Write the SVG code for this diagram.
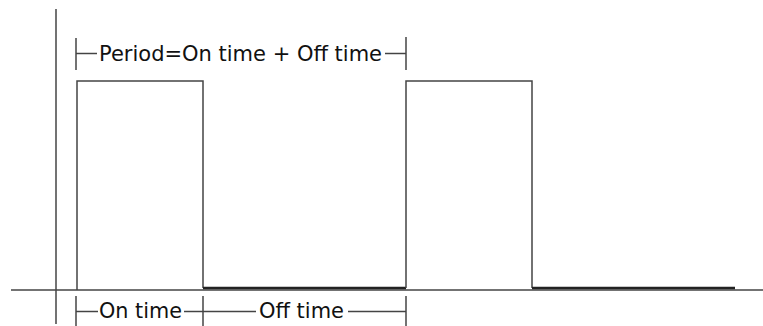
<svg xmlns="http://www.w3.org/2000/svg" width="763" height="326" viewBox="0 0 763 326">
<style>
.ln{stroke:#444;stroke-width:1.5;fill:none}
.low{stroke:#222;stroke-width:2.5;fill:none}
.t{font-family:"DejaVu Sans",sans-serif;font-size:21px;fill:#111}
</style>
<rect width="763" height="326" fill="#fff"/>
<g id="axes">
<line class="ln" x1="56" y1="9" x2="56" y2="324"/>
<line class="ln" x1="11" y1="290" x2="763" y2="290"/>
</g>
<g id="waveform">
<polyline class="ln" points="77,290 77,81 203,81 203,288"/>
<line class="low" x1="203" y1="288" x2="406" y2="288"/>
<polyline class="ln" points="406,288 406,81 532,81 532,288"/>
<line class="low" x1="532" y1="288" x2="735" y2="288"/>
</g>
<g id="period">
<line class="ln" x1="76" y1="38" x2="76" y2="70"/>
<line class="ln" x1="406" y1="37" x2="406" y2="70"/>
<line class="ln" x1="76" y1="53.5" x2="97" y2="53.5"/>
<line class="ln" x1="385" y1="53.5" x2="406" y2="53.5"/>
<text class="t" x="99" y="61" textLength="283" lengthAdjust="spacingAndGlyphs">Period=On time + Off time</text>
</g>
<g id="ontime">
<line class="ln" x1="76" y1="296" x2="76" y2="326"/>
<line class="ln" x1="76" y1="311.5" x2="98" y2="311.5"/>
<line class="ln" x1="184" y1="311.5" x2="203" y2="311.5"/>
<text class="t" x="99" y="318" textLength="83" lengthAdjust="spacingAndGlyphs">On time</text>
</g>
<g id="offtime">
<line class="ln" x1="203" y1="296" x2="203" y2="326"/>
<line class="ln" x1="406" y1="296" x2="406" y2="326"/>
<line class="ln" x1="203" y1="311.5" x2="256" y2="311.5"/>
<line class="ln" x1="348" y1="311.5" x2="406" y2="311.5"/>
<text class="t" x="259" y="318" textLength="85" lengthAdjust="spacingAndGlyphs">Off time</text>
</g>
</svg>
